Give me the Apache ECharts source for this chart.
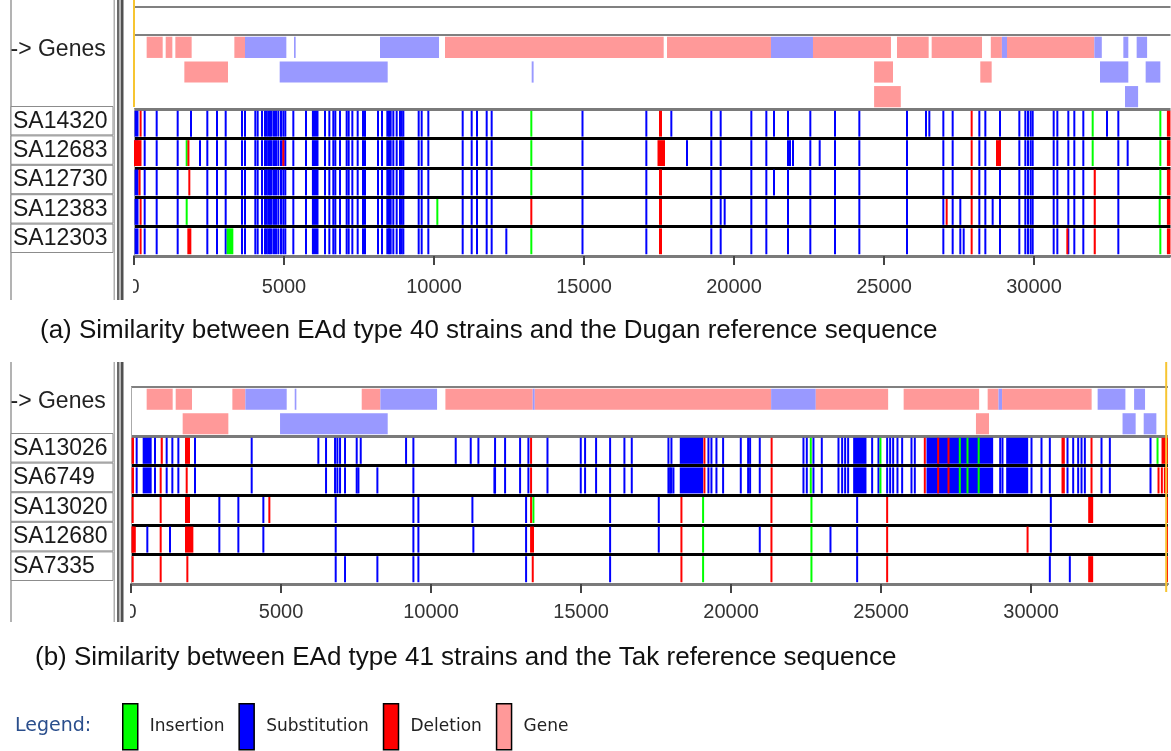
<!DOCTYPE html>
<html>
<head>
<meta charset="utf-8">
<title>EAd strain similarity</title>
<script src="https://cdn.jsdelivr.net/npm/echarts@6/dist/echarts.min.js"></script>
<style>
  html, body { margin: 0; padding: 0; background: #fff; }
  #main { width: 1171px; height: 751px; }
</style>
</head>
<body>
<div id="main"></div>
<script>
// ---- data (positions in bp) ----
var strainsA = ['SA14320', 'SA12683', 'SA12730', 'SA12383', 'SA12303'];
var strainsB = ['SA13026', 'SA6749', 'SA13020', 'SA12680', 'SA7335'];
var tickValues = [0, 5000, 10000, 15000, 20000, 25000, 30000];
var lengthA = 34550;
var lengthB = 34560;
var cursorA = 0;      // yellow marker
var cursorB = 34500;
var captionA = '(a) Similarity between EAd type 40 strains and the Dugan reference sequence';
var captionB = '(b) Similarity between EAd type 41 strains and the Tak reference sequence';
var legendNames = ['Insertion', 'Substitution', 'Deletion', 'Gene'];

// genes: [start, end, lane, strand]  strand 0 = pink, 1 = blue
var genesA = [
  [422, 956, 0, 0], [1056, 1278, 0, 0], [1378, 1922, 0, 0], [3345, 3700, 0, 0],
  [3700, 5078, 0, 1], [5333, 5389, 0, 1], [8200, 10167, 0, 1], [10367, 17656, 0, 0],
  [17767, 21233, 0, 0], [21233, 22633, 0, 1], [22633, 25233, 0, 0], [25433, 26489, 0, 0],
  [26589, 28267, 0, 0], [28560, 28930, 0, 0], [28930, 29100, 0, 1], [29100, 32011, 0, 0],
  [32011, 32260, 0, 1], [32978, 33144, 0, 1], [33422, 33770, 0, 1],
  [1678, 3133, 1, 0], [4856, 8456, 1, 1], [13256, 13320, 1, 1], [24670, 25300, 1, 0],
  [28210, 28589, 1, 0], [32200, 33144, 1, 1], [33722, 34211, 1, 1],
  [24670, 25560, 2, 0], [33033, 33470, 2, 1]
];
var genesB = [
  [522, 1389, 0, 0], [1489, 2033, 0, 0], [3378, 3811, 0, 0], [3811, 5189, 0, 1],
  [5456, 5511, 0, 1], [7689, 8311, 0, 0], [8311, 10200, 0, 1], [10478, 13389, 0, 0],
  [13389, 13456, 0, 1], [13456, 21333, 0, 0], [21333, 22822, 0, 1], [22822, 25233, 0, 0],
  [25750, 28266, 0, 0], [28550, 28910, 0, 0], [28910, 29030, 0, 1], [29030, 32015, 0, 0],
  [32215, 33140, 0, 1], [33430, 33795, 0, 1],
  [1722, 3244, 1, 0], [4967, 8555, 1, 1], [28160, 28595, 1, 0], [33045, 33482, 1, 1],
  [33750, 34172, 1, 1]
];

// variants: a position or [start, end]
var sharedSubsA = [
  [20, 150], 356, 756, 1456, 2444, 2767, 3056, 3600, 3700, 4044, 4122, 4267, 4367, 4422,
  4478, 4533, 4589, 4667, 4733, 4811, 4900, 4978, 5044, 5311, 5733, [5930, 6150], 6367,
  6511, 6644, 6711, 6867, 7089, 7156, 7278, 7456, 7633, 7700, 8133, 8267, 8444, 8500,
  8556, 8644, 8756, 8867, 8922, 8978, 9489, 9589, 9811, 10956, 11256, 11433, 11756, 11922,
  14950, 17078, 19244, 19556, 20578, 21078, 21800, 22544, 23367, 24178, 25767, 26978,
  27289, 28178, 28378, 28867, 29511, 29711, 29800, 29889, 29956, 30656, 30778, 31144,
  31344, 31644, 32811
];
var subsA = [
  [1900, 17911, 21333, 26400, 26511, 32433],
  [2200, 18433, 21867, 21967, 22856, 33122],
  [21333],
  [19689, 27544, 28622],
  [12411, 27544, 27656]
];
var delsA = [
  [[190, 250], [17500, 17600], 27922, [34430, 34550]],
  [[0, 250], [1790, 1840], [4944, 5011], [17450, 17700], 27922, [28733, 28900], [34430, 34550]],
  [[150, 220], 1844, [17500, 17600], 27922, [31990, 32060], [34430, 34550]],
  [[190, 250], 13244, [17500, 17600], 27089, 27922, [31990, 32060], [34430, 34550]],
  [[190, 250], [1778, 1911], [17500, 17600], 27922, 31111, [31990, 32060], [34430, 34550]]
];
var insA = [
  [13244, 31956, 34211],
  [1756, 13244, 31956, 34211],
  [13244, 34211],
  [1756, 10111, 34190],
  [[3089, 3311], 13244, 34211]
];

var sharedSubsB01 = [
  189, [389, 689], 800, 1189, 1378, 1578, 2133, 4022, 6500, 6800, 6878, 6967, 7133, 7522,
  9411, 12133, 12467, 12967, 13244, 13880, 14989, 15133, 15500, 15967, 16444, 16689,
  17911, 18011, [18289, 19067], 19244, 19344, 19511, 19733, 20322, 20567, 20633, 20955,
  22411, 22522, 22744, 23022, 23578, 23700, 23800, 23900, [24067, 24511], 24700, 24911,
  25200, 25300, 25400, 25544, 25700, 26011, 26122, [26511, 28733], 28967, 29044,
  [29167, 29900], 30011, 30344, 30622, 31211, 31400, 31566, 31678, 31789, 32344, 32622,
  33977
];
var sharedSubsB234 = [6822, 9411, 9578, 13167, 15967, 24200];
var subsB = [
  [6244, 7656, 9167, 10822, 11322, 11578],
  [7580, 8211, [12078, 12160], 17967, 18078],
  [2944, 3578, 4411, 11378, 17589, 30655],
  [544, 1300, 2944, 3578, 4411, [11380, 11440], 17589, 20955, 23311, 30655],
  [7133, 8211, 30622, 31288]
];
var sharedDelsB01 = [13333, 19111, 21350, 26455, 26900, 27244, [31011, 31122], 32011];
var sharedDelsB234 = [56, 989, 18344, 21344, 25200, [34500, 34560]];
var delsB = [
  [[22, 100], [989, 1060], [1800, 1967], [34344, 34560]],
  [[22, 100], 989, 1856, 34244, 34355, 34455, [34500, 34560]],
  [[1800, 1967], 4611, 13333, [31900, 32066]],
  [[22, 160], [1800, 2078], [13300, 13430], 29880],
  [1878, 13389, [31900, 32066]]
];
var sharedInsB01 = [22655, 24977, 27622, 27878, 28250];
var sharedInsB234 = [19066, 22677];
var insB = [
  [34211],
  [],
  [13411],
  [],
  []
];

// ---- styles / layout ----
var C_SUB = '#0000ff', C_INS = '#00ff00', C_DEL = '#ff0000';
var C_GENE = '#ff9999', C_GENE_REV = '#9999ff';
var FONT = 'Liberation Sans';
var layoutA = { left: 134, width: 1036.5, rulerTop: 7, genesTop: 35, genesH: 74, top: 109, h: 147 };
var layoutB = { left: 131, width: 1037, genesTop: 387, genesH: 49, top: 436, h: 148 };

function merge(shared, lists) {
  return lists.map(function (l) { return shared.concat(l); });
}
function mergeGroups(a, b, lists) {
  return lists.map(function (l, i) { return (i < 2 ? a : b).concat(l); });
}

function variantData(lists) {
  var out = [];
  lists.forEach(function (list, row) {
    list.forEach(function (v) {
      var s = Array.isArray(v) ? v[0] : v;
      var e = Array.isArray(v) ? v[1] : v;
      out.push([s, e, row]);
    });
  });
  return out;
}

function renderVariant(params, api) {
  var row = api.value(2);
  var p0 = api.coord([api.value(0), row + 0.06]);
  var p1 = api.coord([api.value(1), row + 0.94]);
  var x = p0[0], w = p1[0] - p0[0];
  if (w < 2) { x = (p0[0] + p1[0]) / 2 - 1; w = 2; }
  return {
    type: 'rect',
    shape: { x: x, y: p0[1], width: w, height: p1[1] - p0[1] },
    style: { fill: api.visual('color') }
  };
}

function renderGene(params, api) {
  var lane = api.value(2);
  var p0 = api.coord([api.value(0), lane + 0.07]);
  var p1 = api.coord([api.value(1), lane + 0.93]);
  return {
    type: 'rect',
    shape: { x: p0[0], y: p0[1], width: Math.max(1.5, p1[0] - p0[0]), height: p1[1] - p0[1] },
    style: { fill: api.value(3) ? C_GENE_REV : api.visual('color') }
  };
}

function variantSeries(name, color, idx, lists) {
  return {
    type: 'custom', name: name, xAxisIndex: idx, yAxisIndex: idx,
    renderItem: renderVariant, itemStyle: { color: color },
    encode: { x: [0, 1], y: 2 }, data: variantData(lists), clip: true, silent: true
  };
}
function geneSeries(idx, genes) {
  return {
    type: 'custom', name: 'Gene', xAxisIndex: idx, yAxisIndex: idx,
    renderItem: renderGene, itemStyle: { color: C_GENE },
    encode: { x: [0, 1], y: 2 }, data: genes, clip: true, silent: true
  };
}

function hiddenX(idx, max) {
  return { type: 'value', gridIndex: idx, min: 0, max: max, show: false };
}
function strainX(idx, max, margin) {
  return {
    type: 'value', gridIndex: idx, min: 0, max: max, position: 'bottom',
    axisLine: { show: true, onZero: false, lineStyle: { color: '#7a7a7a', width: 2 } },
    axisTick: { show: true, length: 9, customValues: tickValues, lineStyle: { color: '#444', width: 2 } },
    axisLabel: {
      customValues: tickValues, margin: margin, fontSize: 20, fontFamily: FONT, color: '#333',
      formatter: function (v) { return String(v); }
    },
    splitLine: { show: false }
  };
}
function strainY(idx) {
  return {
    type: 'value', gridIndex: idx, min: 0, max: 5, interval: 1, inverse: true,
    axisLabel: { show: false }, axisTick: { show: false },
    axisLine: { show: true, onZero: false, lineStyle: { color: '#aaa', width: 1 } },
    splitLine: { show: true, lineStyle: { color: ['#7a7a7a', '#000', '#000', '#000', '#000', '#7a7a7a'], width: 3 } }
  };
}

// left label column + splitter
var graphicEls = [];
function labelColumn(L, names, rowH, yFrom, yTo, genesY) {
  graphicEls.push({ type: 'line', shape: { x1: 11, y1: yFrom, x2: 11, y2: yTo }, style: { stroke: '#9a9a9a', lineWidth: 1.5 } });
  graphicEls.push({ type: 'text', x: 10.5, y: genesY, style: { text: '-> Genes', fontSize: 23, fontFamily: FONT, fill: '#222', verticalAlign: 'middle' } });
  names.forEach(function (n, i) {
    var y = L.top + i * rowH - 2.5;
    graphicEls.push({ type: 'rect', shape: { x: 11, y: y, width: 102, height: rowH - 1 }, style: { fill: '#fff', stroke: '#8c8c8c', lineWidth: 1 } });
    graphicEls.push({ type: 'text', x: 13, y: y + rowH / 2, style: { text: n, fontSize: 23, fontFamily: FONT, fill: '#1a1a1a', verticalAlign: 'middle' } });
  });
  // hide left half of the "0" tick label, as in the clipped view
  graphicEls.push({ type: 'rect', shape: { x: 123.5, y: L.top + L.h + 10, width: L.left - 124.5, height: 34 }, style: { fill: '#fff' }, z: 50 });
  graphicEls.push({ type: 'rect', shape: { x: 113.5, y: yFrom, width: 1.5, height: yTo - yFrom }, style: { fill: '#b0b0b0' }, z: 60 });
  graphicEls.push({ type: 'rect', shape: { x: 117, y: yFrom, width: 2.5, height: yTo - yFrom }, style: { fill: '#6a6a6a' }, z: 60 });
  graphicEls.push({ type: 'rect', shape: { x: 119.5, y: yFrom, width: 1.5, height: yTo - yFrom }, style: { fill: '#b8b8b8' }, z: 60 });
  graphicEls.push({ type: 'rect', shape: { x: 121, y: yFrom, width: 2.5, height: yTo - yFrom }, style: { fill: '#505050' }, z: 60 });
}
labelColumn(layoutA, strainsA, layoutA.h / 5, 0, 300, 50);
labelColumn(layoutB, strainsB, layoutB.h / 5, 362, 622, 402);
graphicEls.push({ type: 'text', x: 15, y: 726, style: { text: 'Legend:', fontSize: 19, fontFamily: 'DejaVu Sans', fill: '#2a4e8c', verticalAlign: 'middle' } });

var captionStyle = { fontFamily: FONT, fontSize: 26, fontWeight: 'normal', color: '#111' };

var option = {
  animation: false,
  backgroundColor: '#fff',
  title: [
    { text: captionA, left: 40, top: 318, padding: 0, textStyle: captionStyle },
    { text: captionB, left: 35, top: 645, padding: 0, textStyle: captionStyle }
  ],
  legend: {
    data: legendNames, left: 122, top: 703, padding: 0, icon: 'rect',
    itemWidth: 15, itemHeight: 46, itemGap: 14, selectedMode: false,
    itemStyle: { borderColor: '#000', borderWidth: 1.5 },
    textStyle: { fontFamily: 'DejaVu Sans', fontSize: 17, color: '#222', padding: [0, 0, 0, 7] }
  },
  grid: [
    { left: layoutA.left, width: layoutA.width, top: layoutA.rulerTop, height: layoutA.genesTop - layoutA.rulerTop },
    { left: layoutA.left, width: layoutA.width, top: layoutA.genesTop, height: layoutA.genesH },
    { left: layoutA.left, width: layoutA.width, top: layoutA.top, height: layoutA.h },
    { left: layoutB.left, width: layoutB.width, top: layoutB.genesTop, height: layoutB.genesH },
    { left: layoutB.left, width: layoutB.width, top: layoutB.top, height: layoutB.h }
  ],
  xAxis: [
    hiddenX(0, lengthA), hiddenX(1, lengthA), strainX(2, lengthA, 21),
    hiddenX(3, lengthB), strainX(4, lengthB, 18)
  ],
  yAxis: [
    { type: 'value', gridIndex: 0, min: 0, max: 1, interval: 1, axisLine: { show: false }, axisTick: { show: false },
      axisLabel: { show: false }, splitLine: { show: true, lineStyle: { color: '#808080', width: 2 } } },
    { type: 'value', gridIndex: 1, min: 0, max: 3, inverse: true, show: false, splitLine: { show: false } },
    strainY(2),
    { type: 'value', gridIndex: 3, min: 0, max: 2, interval: 1, inverse: true, axisTick: { show: false },
      axisLabel: { show: false }, axisLine: { show: true, onZero: false, lineStyle: { color: '#aaa', width: 1 } },
      splitLine: { show: true, lineStyle: { color: ['#808080', 'rgba(0,0,0,0)', 'rgba(0,0,0,0)'], width: 2 } } },
    strainY(4)
  ],
  graphic: { elements: graphicEls },
  series: [
    geneSeries(1, genesA),
    geneSeries(3, genesB),
    variantSeries('Substitution', C_SUB, 2, merge(sharedSubsA, subsA)),
    variantSeries('Insertion', C_INS, 2, insA),
    variantSeries('Deletion', C_DEL, 2, delsA),
    variantSeries('Substitution', C_SUB, 4, mergeGroups(sharedSubsB01, sharedSubsB234, subsB)),
    variantSeries('Insertion', C_INS, 4, mergeGroups(sharedInsB01, sharedInsB234, insB)),
    variantSeries('Deletion', C_DEL, 4, mergeGroups(sharedDelsB01, sharedDelsB234, delsB))
  ]
};

var myChart = echarts.init(document.getElementById('main'));
myChart.setOption(option);

// yellow position markers, placed through the axes
var xa = myChart.convertToPixel({ xAxisIndex: 1 }, cursorA);
var xb = myChart.convertToPixel({ xAxisIndex: 4 }, cursorB);
graphicEls.push({ type: 'line', shape: { x1: xa, y1: 0, x2: xa, y2: 107 }, style: { stroke: '#f7c531', lineWidth: 2 }, z: 40 });
graphicEls.push({ type: 'line', shape: { x1: xb, y1: 362, x2: xb, y2: 592 }, style: { stroke: '#f7c531', lineWidth: 2 }, z: 40 });
myChart.setOption({ graphic: { elements: graphicEls } });
</script>
</body>
</html>
